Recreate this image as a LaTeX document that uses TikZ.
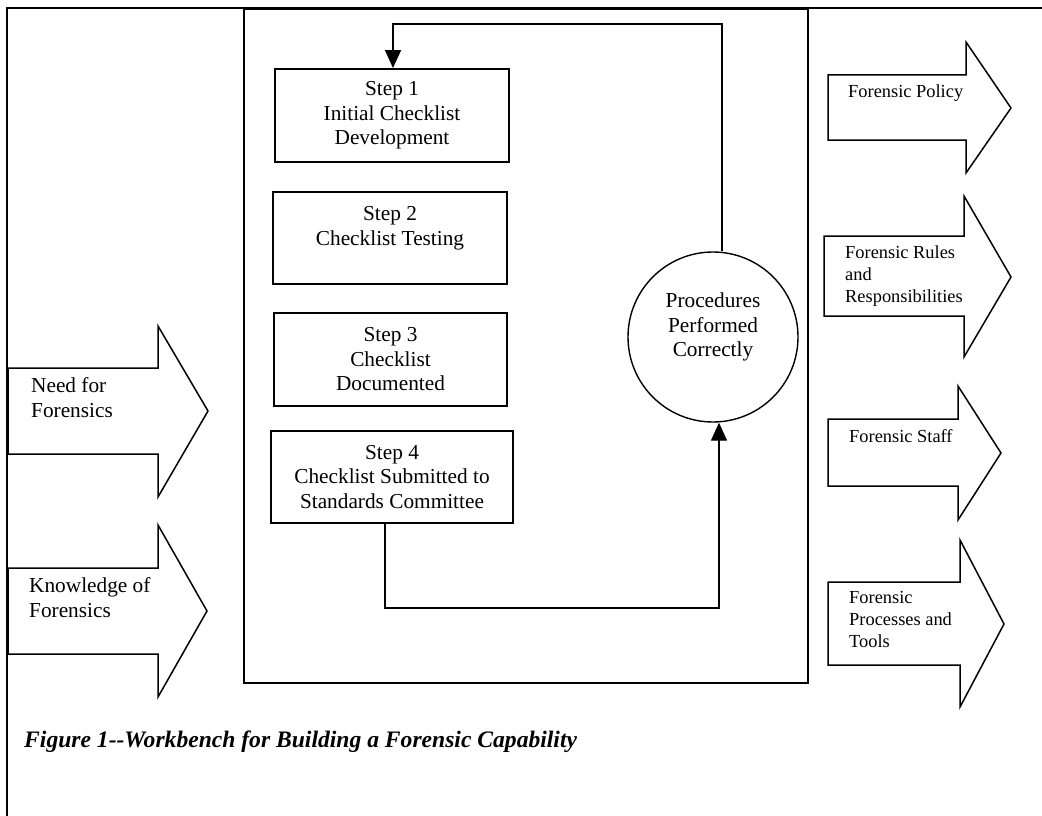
\documentclass[tikz,border=0pt]{standalone}
\usepackage{fontspec}
\setmainfont{Liberation Serif}
\usetikzlibrary{arrows.meta}
\begin{document}
\begin{tikzpicture}[x=1pt,y=-1pt,
  frame/.style={line width=2.6pt},
  bench/.style={line width=2pt},
  stepbox/.style={draw, line width=1.9pt, rectangle, align=center, inner sep=0pt,
    font=\fontsize{21.3}{24.5}\selectfont},
  goal/.style={draw, line width=1.4pt, circle, align=center, inner sep=0pt,
    font=\fontsize{21.3}{24.5}\selectfont},
  flow/.style={line width=1.4pt},
  tip/.style={-{Triangle[length=18pt,width=16pt]}},
  bigarrow/.style={draw, line width=1.5pt, line join=miter},
  intext/.style={anchor=base west, align=left, inner sep=0pt,
    font=\fontsize{21.3}{25}\selectfont},
  outtext/.style={anchor=base west, align=left, inner sep=0pt,
    font=\fontsize{18.4}{21.8}\selectfont},
  caption/.style={anchor=base west, inner sep=0pt,
    font=\fontsize{23.6}{28}\selectfont\bfseries\itshape}
]
\useasboundingbox (0,0) rectangle (1042,816);

% outer frame (top and left edges)
\draw[frame] (7,816) -- (7,8) -- (1042,8);
% workbench box
\draw[bench] (244,9) rectangle (808,683);

% steps
\node[stepbox, minimum width=234pt, minimum height=93pt] (s1) at (392,115.5)
  {Step 1\\Initial Checklist\\Development};
\node[stepbox, minimum width=234pt, minimum height=92pt] (s2) at (390,238)
  {Step 2\\Checklist Testing\\\mbox{}};
\node[stepbox, minimum width=233pt, minimum height=93pt] (s3) at (390.5,359.5)
  {Step 3\\Checklist\\Documented};
\node[stepbox, minimum width=242pt, minimum height=92pt] (s4) at (392,477)
  {Step 4\\Checklist Submitted to\\Standards Committee};

% check circle
\node[goal, minimum size=170pt] (c) at (713,337)
  {Procedures\\Performed\\Correctly\\\mbox{}};

% connectors
\coordinate (t1) at (722,24);
\coordinate (t2) at (393,24);
\draw[flow, tip] (c.north -| t1) -- (t1) -- (t2) -- (t2 |- s1.north);
\coordinate (b1) at (385,608);
\coordinate (b2) at (719,608);
\draw[flow, tip] (s4.south -| b1) -- (b1) -- (b2) -- (b2 |- c.south);

% inputs
\draw[bigarrow] (8,368) -- (158,368) -- (158,326) -- (208,411) -- (158,497) -- (158,454) -- (8,454) -- cycle;
\node[intext] (in1) at (31,417) {Need for\\Forensics};
\draw[bigarrow] (8,568) -- (158,568) -- (158,525) -- (207,611) -- (158,697) -- (158,654) -- (8,654) -- cycle;
\node[intext] (in2) at (29,617) {Knowledge of\\Forensics};

% outputs
\draw[bigarrow] (828,75) -- (966,75) -- (966,42) -- (1011,108) -- (966,173) -- (966,140) -- (828,140) -- cycle;
\node[outtext] (o1) at (848,97) {Forensic Policy};
\draw[bigarrow] (824,236) -- (964,236) -- (964,196) -- (1011,277) -- (964,357) -- (964,316) -- (824,316) -- cycle;
\node[outtext] (o2) at (845,302) {Forensic Rules\\and\\Responsibilities};
\draw[bigarrow] (828,419) -- (958,419) -- (958,386) -- (1001,453) -- (958,520) -- (958,486) -- (828,486) -- cycle;
\node[outtext] (o3) at (849,442) {Forensic Staff};
\draw[bigarrow] (828,582) -- (960,582) -- (960,540) -- (1004,624) -- (960,707) -- (960,665) -- (828,665) -- cycle;
\node[outtext] (o4) at (849,647) {Forensic\\Processes and\\Tools};

% caption
\node[caption] (cap) at (24,747) {Figure 1{-}{-}Workbench for Building a Forensic Capability};
\end{tikzpicture}
\end{document}
